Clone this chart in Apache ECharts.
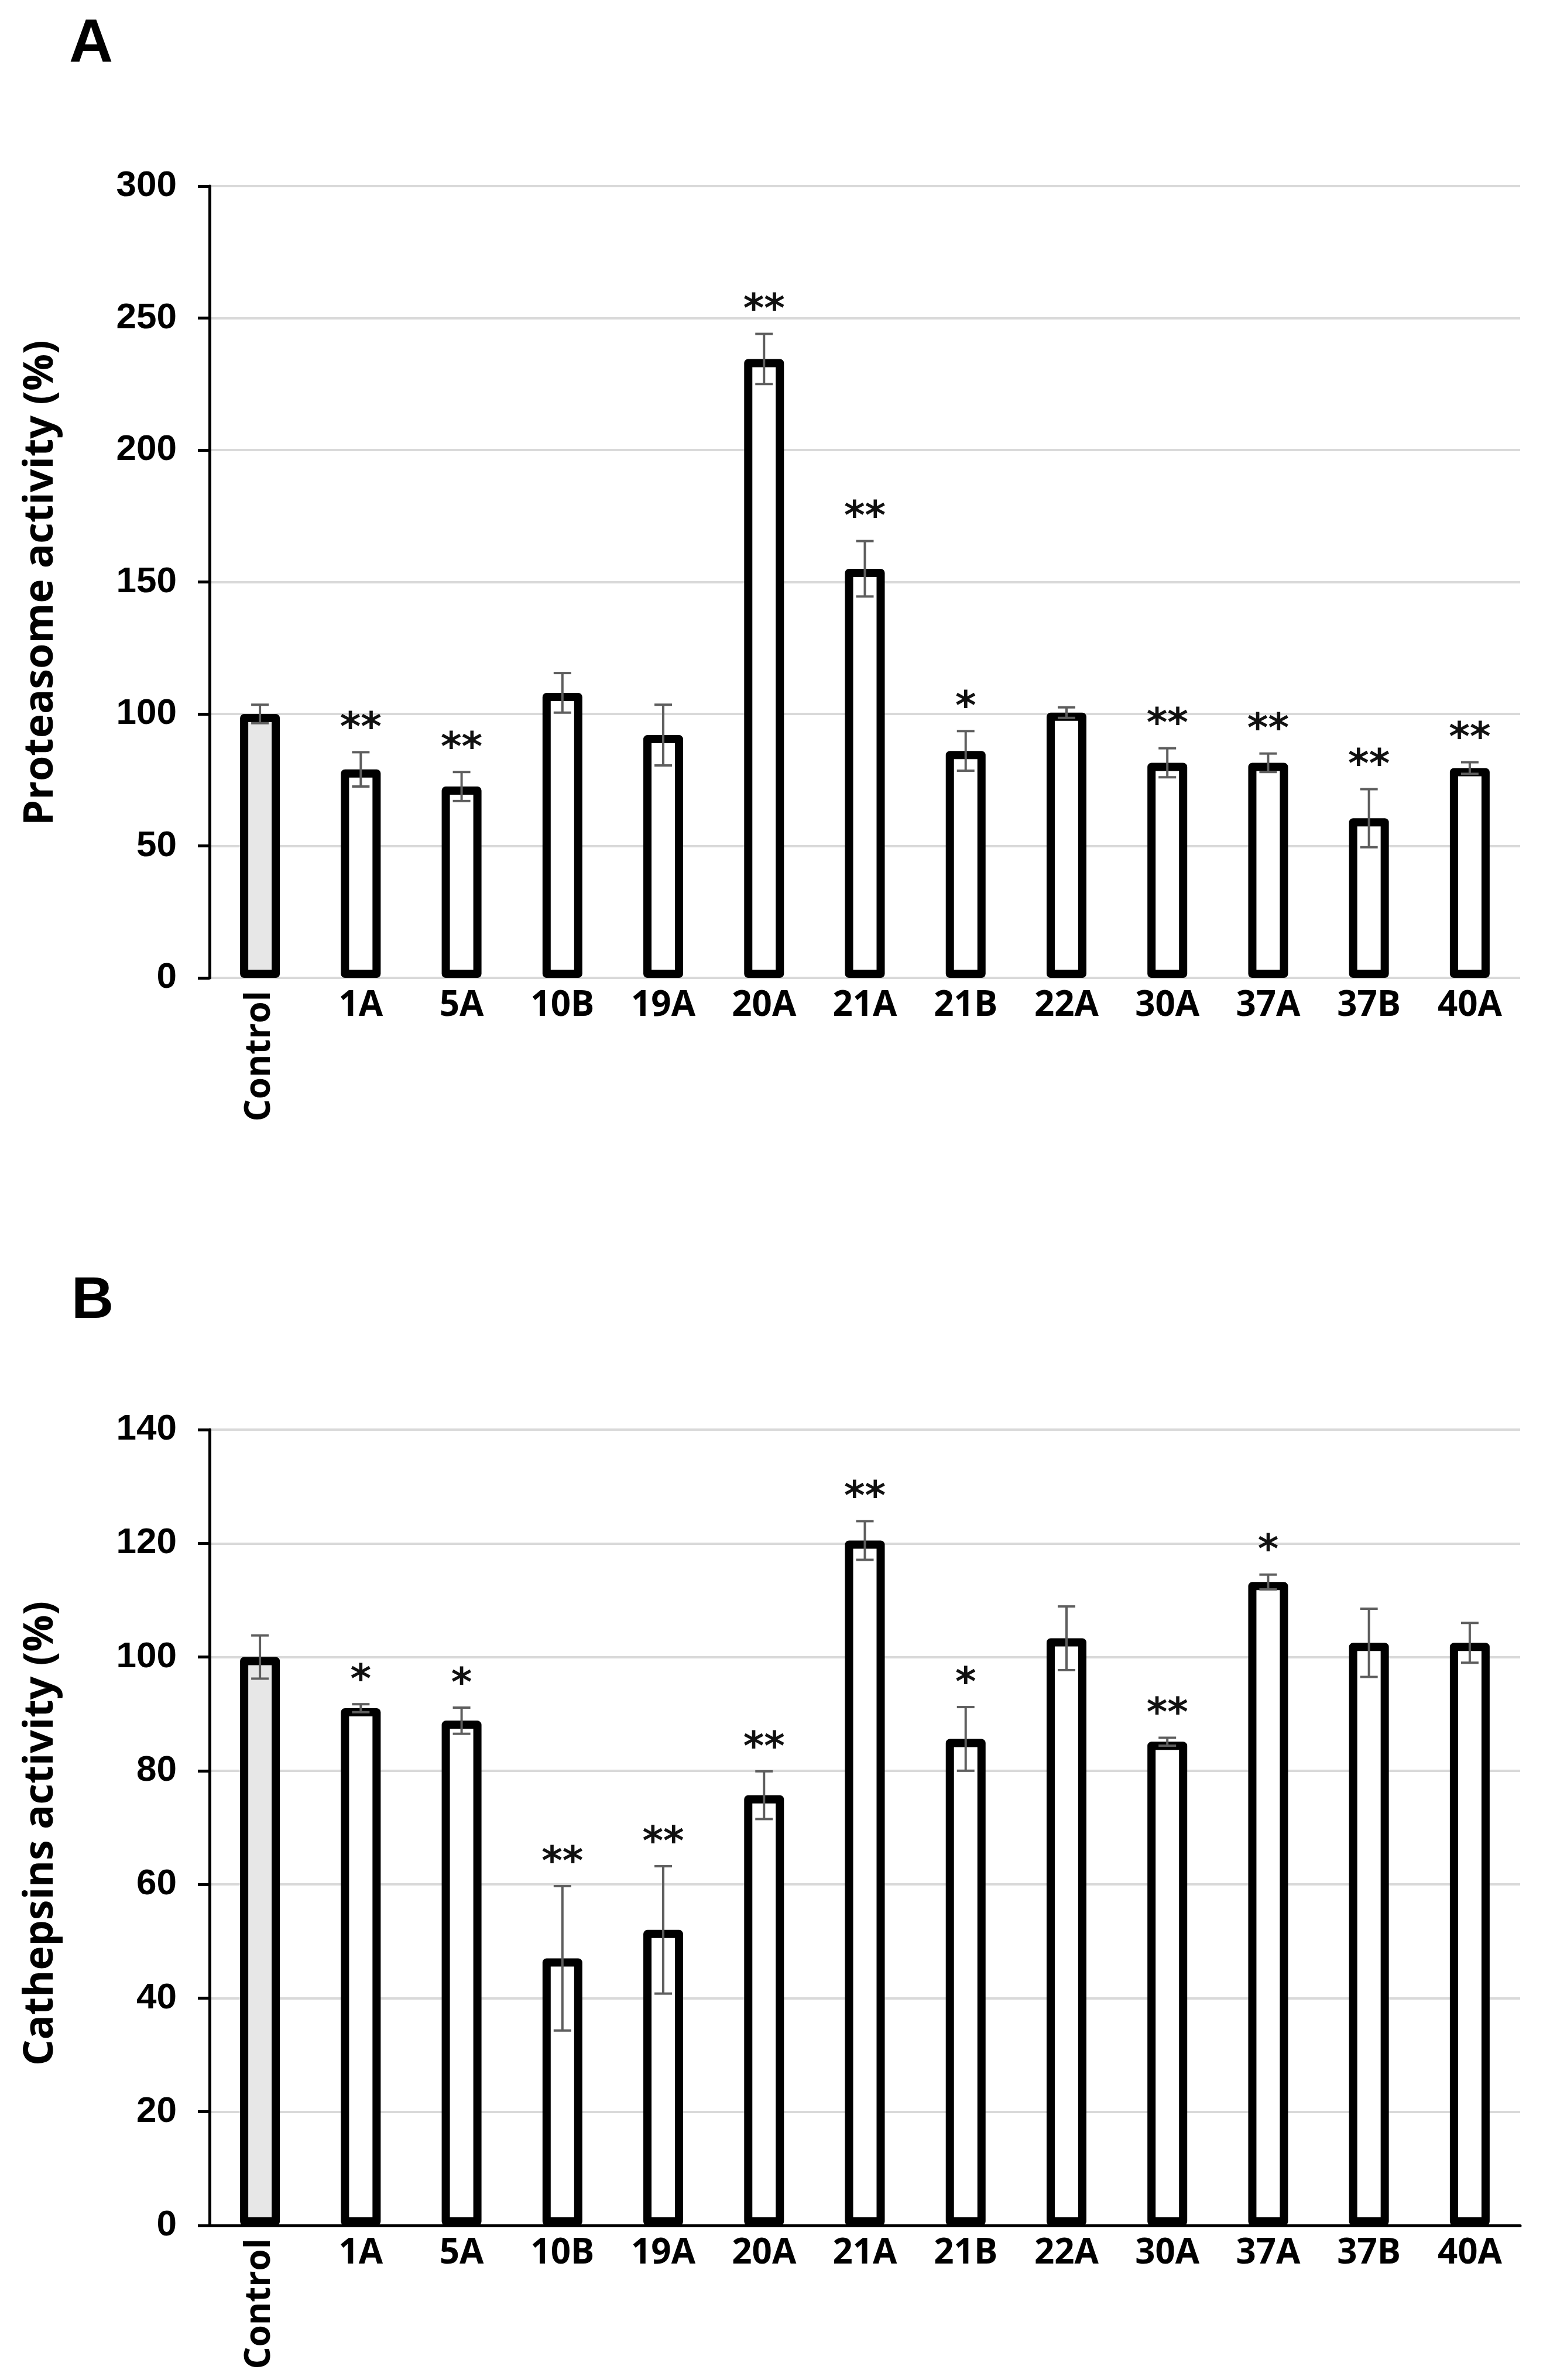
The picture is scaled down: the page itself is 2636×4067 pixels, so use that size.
<!DOCTYPE html>
<html>
<head>
<meta charset="utf-8">
<script src="https://cdn.jsdelivr.net/npm/echarts@6.0.0/dist/echarts.min.js"></script>
<style>
  html, body { margin: 0; padding: 0; background: #fff; }
  #main { width: 2636px; height: 4067px; }
</style>
</head>
<body>
<div id="main"></div>
<script>
// data
var categories = ['Control', '1A', '5A', '10B', '19A', '20A', '21A', '21B', '22A', '30A', '37A', '37B', '40A'];

var proteasome    = [100, 79, 72.5, 108, 92, 234.5, 155, 86, 100.5, 81.5, 81.5, 60.5, 79.5];
var proteasomeErr = [3.5, 6.5, 5.5, 7.5, 11.5, 9.5, 10.5, 7.5, 2, 5.5, 3.5, 11, 2.2];
var proteasomeSig = ['', '**', '**', '', '', '**', '**', '*', '', '**', '**', '**', '**'];

var cathepsins    = [100, 91, 88.8, 47, 52, 75.7, 120.5, 85.6, 103.3, 85.1, 113.2, 102.5, 102.5];
var cathepsinsErr = [3.8, 0.7, 2.3, 12.7, 11.2, 4.2, 3.4, 5.6, 5.6, 0.7, 1.3, 6, 3.5];
var cathepsinsSig = ['', '*', '*', '**', '**', '**', '**', '*', '', '**', '*', '', ''];

var myChart = echarts.init(document.getElementById('main'), null, { renderer: 'canvas', devicePixelRatio: 1 });

var tickFont = 'Liberation Sans';
var catFont = 'Open Sans';

function barData(vals) {
    return vals.map(function (v, i) {
        return {
            value: v,
            itemStyle: { color: i === 0 ? '#e7e7e7' : '#ffffff' }
        };
    });
}

function errData(vals, errs) {
    return vals.map(function (v, i) { return [i, v, errs[i]]; });
}

// error bar + significance stars
function makeErrRender(sig) {
    return function (params, api) {
        var x = api.value(0), m = api.value(1), e = api.value(2);
        var top = api.coord([x, m + e]);
        var bot = api.coord([x, m - e]);
        var cap = 15;
        var st = { stroke: '#5e5e5e', lineWidth: 4 };
        var kids = [
            { type: 'line', shape: { x1: top[0], y1: top[1], x2: bot[0], y2: bot[1] }, style: st },
            { type: 'line', shape: { x1: top[0] - cap, y1: top[1], x2: top[0] + cap, y2: top[1] }, style: st },
            { type: 'line', shape: { x1: bot[0] - cap, y1: bot[1], x2: bot[0] + cap, y2: bot[1] }, style: st }
        ];
        var s = sig[params.dataIndex];
        if (s) {
            kids.push({
                type: 'text',
                x: top[0],
                y: top[1] - 4,
                style: {
                    text: s,
                    textAlign: 'center',
                    textVerticalAlign: 'bottom',
                    font: 'bold 68px "DejaVu Sans"',
                    fill: '#111'
                }
            });
        }
        return { type: 'group', children: kids };
    };
}

function yAxisCfg(gridIndex, max, interval) {
    return {
        type: 'value',
        gridIndex: gridIndex,
        min: 0,
        max: max,
        interval: interval,
        axisLine: { show: true, lineStyle: { color: '#000', width: 5 } },
        axisTick: { show: true, inside: false, length: 20, lineStyle: { color: '#000', width: 5 } },
        axisLabel: { color: '#000', fontFamily: tickFont, fontWeight: 'bold', fontSize: 62, margin: 56 },
        splitLine: { show: true, lineStyle: { color: '#d9d9d9', width: 4 } }
    };
}

function xAxisCfg(gridIndex, showLine, rotated) {
    return {
        type: 'category',
        gridIndex: gridIndex,
        position: 'bottom',
        data: categories,
        axisLine: { show: showLine, onZero: false, lineStyle: { color: '#000', width: 5 } },
        axisTick: { show: false },
        axisLabel: {
            color: '#000',
            fontFamily: catFont,
            fontWeight: 'bold',
            fontSize: 60,
            margin: rotated ? 22 : 18,
            rotate: rotated ? 90 : 0,
            interval: rotated
                ? function (i) { return i === 0; }
                : function (i) { return i > 0; }
        },
        splitLine: { show: false }
    };
}

var option = {
    backgroundColor: '#ffffff',
    animation: false,
    grid: [
        { left: 358, right: 39, top: 318, height: 1353, containLabel: false, outerBoundsMode: 'none' },
        { left: 358, right: 39, top: 2443, height: 1360, containLabel: false, outerBoundsMode: 'none' }
    ],
    xAxis: [
        xAxisCfg(0, false, false),
        xAxisCfg(0, false, true),
        xAxisCfg(1, true, false),
        xAxisCfg(1, false, true)
    ],
    yAxis: [
        yAxisCfg(0, 300, 50),
        yAxisCfg(1, 140, 20)
    ],
    graphic: [
        { type: 'text', left: 118, top: 24, style: { text: 'A', font: 'bold 104px "Liberation Sans"', fill: '#000' } },
        { type: 'text', left: 122, top: 2174, style: { text: 'B', font: 'bold 100px "Liberation Sans"', fill: '#000' } },
        {
            type: 'text', x: 70, y: 996, rotation: Math.PI / 2,
            style: { text: 'Proteasome activity (%)', font: 'bold 70px "Open Sans"', fill: '#000', textAlign: 'center', textVerticalAlign: 'middle' }
        },
        {
            type: 'text', x: 70, y: 3133, rotation: Math.PI / 2,
            style: { text: 'Cathepsins activity (%)', font: 'bold 70px "Open Sans"', fill: '#000', textAlign: 'center', textVerticalAlign: 'middle' }
        }
    ],
    series: [
        {
            name: 'Proteasome',
            type: 'bar',
            xAxisIndex: 0,
            yAxisIndex: 0,
            barWidth: 68,
            itemStyle: { borderColor: '#000', borderWidth: 14, borderJoin: 'round' },
            data: barData(proteasome),
            z: 2
        },
        {
            name: 'Proteasome err',
            type: 'custom',
            xAxisIndex: 0,
            yAxisIndex: 0,
            renderItem: makeErrRender(proteasomeSig),
            data: errData(proteasome, proteasomeErr),
            z: 5
        },
        {
            name: 'Cathepsins',
            type: 'bar',
            xAxisIndex: 2,
            yAxisIndex: 1,
            barWidth: 68,
            itemStyle: { borderColor: '#000', borderWidth: 14, borderJoin: 'round' },
            data: barData(cathepsins),
            z: 2
        },
        {
            name: 'Cathepsins err',
            type: 'custom',
            xAxisIndex: 2,
            yAxisIndex: 1,
            renderItem: makeErrRender(cathepsinsSig),
            data: errData(cathepsins, cathepsinsErr),
            z: 5
        }
    ]
};

myChart.setOption(option);
</script>
</body>
</html>
